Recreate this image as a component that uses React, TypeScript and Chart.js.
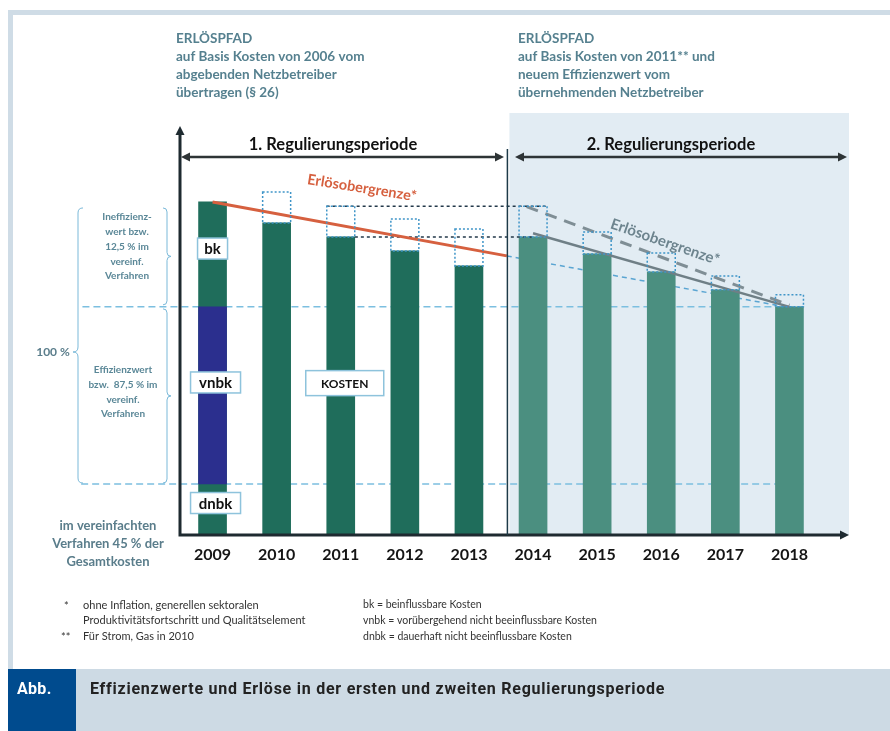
import React, { useEffect, useRef } from "react";
import { Chart, registerables } from "chart.js";

Chart.register(...registerables);

// ---------- data ----------
const years = ["2009", "2010", "2011", "2012", "2013", "2014", "2015", "2016", "2017", "2018"];
const costs = [100, 93.7, 89.5, 85.3, 80.8, 89.5, 84.4, 79.0, 73.6, 68.5];
const revenueCaps = [null, 103.0, 98.7, 94.9, 91.9, 98.7, 91.0, 84.7, 77.8, 72.1];
const vnbk2009 = [15.3, 68.5];
const efficiencyLevel = 68.5;
const dnbkLevel = 15.3;
const periodBoundary = 4.6;
const cap1Line = [{ x: 0, y: 100 }, { x: 4.59, y: 83.8 }];
const cap1Trend = [{ x: 4.59, y: 83.8 }, { x: 9, y: 68.3 }];
const cap2Line = [{ x: 5, y: 90.6 }, { x: 9, y: 68.5 }];
const cap2Upper = [{ x: 4.9, y: 98.6 }, { x: 9, y: 69 }];
const carryUpper = [{ x: 1.78, y: 98.7 }, { x: 5.22, y: 98.7 }];
const carryLower = [{ x: 2.22, y: 89.5 }, { x: 5, y: 89.5 }];
const effLine = [{ x: -2.03, y: efficiencyLevel }, { x: 9.23, y: efficiencyLevel }];
const dnbkLine = [{ x: -2.05, y: dnbkLevel }, { x: 9.25, y: dnbkLevel }];

const W = 890;
const H = 731;
const FONT = 'Lato, "Open Sans", sans-serif';
const TEAL_TXT = "#55808f";

function txt(ctx: any, s: string, x: number, y: number, size: number, color: string, align = "left", weight = "bold", family = FONT, spacing = "0px") {
  ctx.font = `${weight} ${size}px ${family}`;
  ctx.fillStyle = color;
  ctx.textAlign = align;
  ctx.textBaseline = "middle";
  try { ctx.letterSpacing = spacing; } catch (e) {}
  ctx.fillText(s, x, y);
  try { ctx.letterSpacing = "0px"; } catch (e) {}
}

function arrow(ctx: any, x: number, y: number, dir: string, size: number, color: string) {
  ctx.fillStyle = color;
  ctx.beginPath();
  if (dir === "up") {
    ctx.moveTo(x, y); ctx.lineTo(x - size / 2, y + size); ctx.lineTo(x + size / 2, y + size);
  } else if (dir === "right") {
    ctx.moveTo(x, y); ctx.lineTo(x - size, y - size / 2); ctx.lineTo(x - size, y + size / 2);
  } else {
    ctx.moveTo(x, y); ctx.lineTo(x + size, y - size / 2); ctx.lineTo(x + size, y + size / 2);
  }
  ctx.closePath();
  ctx.fill();
}

function brace(ctx: any, x: number, y1: number, y2: number, tip: number, w: number, ymid?: number) {
  const ym = ymid ?? (y1 + y2) / 2;
  const e = -tip * w;
  ctx.beginPath();
  ctx.moveTo(x + e, y1);
  ctx.quadraticCurveTo(x, y1, x, y1 + w);
  ctx.lineTo(x, ym - w);
  ctx.quadraticCurveTo(x, ym, x + tip * w, ym);
  ctx.quadraticCurveTo(x, ym, x, ym + w);
  ctx.lineTo(x, y2 - w);
  ctx.quadraticCurveTo(x, y2, x + e, y2);
  ctx.stroke();
}

function labelBox(ctx: any, s: string, cx: number, cy: number, w: number, h: number, size: number) {
  ctx.fillStyle = "#ffffff";
  ctx.fillRect(cx - w / 2, cy - h / 2, w, h);
  ctx.strokeStyle = "#8ec3dc";
  ctx.lineWidth = 1.5;
  ctx.setLineDash([]);
  ctx.strokeRect(cx - w / 2, cy - h / 2, w, h);
  txt(ctx, s, cx, cy + 1, size, "#111", "center");
}

const decor = {
  id: "decor",
  beforeDraw(chart: any) {
    const { ctx } = chart;
    const y = chart.scales.y;
    const xl = chart.scales.xl;
    ctx.save();
    ctx.fillStyle = "#ffffff";
    ctx.fillRect(0, 0, W, H);
    ctx.fillStyle = "#cfdce6";
    ctx.fillRect(8, 10, W - 8, 5);
    ctx.fillRect(8, 10, 5, 659);
    ctx.fillStyle = "#cddae4";
    ctx.fillRect(8, 669, W - 8, H - 669);
    ctx.fillStyle = "#004b8e";
    ctx.fillRect(8, 669, 68, H - 669);
    txt(ctx, "Abb.", 17, 690, 16, "#ffffff", "left", "bold", "Roboto, sans-serif", "0.3px");
    txt(ctx, "Effizienzwerte und Erlöse in der ersten und zweiten Regulierungsperiode", 90, 690, 16, "#222", "left", "bold", "Roboto, sans-serif", "0.75px");
    const bx = xl.getPixelForValue(periodBoundary) + 2;
    const base = y.getPixelForValue(0);
    ctx.fillStyle = "#e2ecf3";
    ctx.fillRect(bx, 113, 849 - bx, base - 113);
    ctx.restore();
  },
  afterDatasetsDraw(chart: any) {
    const { ctx } = chart;
    const y = chart.scales.y;
    const x = chart.scales.x;
    const xl = chart.scales.xl;
    const base = y.getPixelForValue(0);
    ctx.save();

    // dotted revenue boxes
    const meta = chart.getDatasetMeta(2);
    ctx.setLineDash([2, 2]);
    ctx.strokeStyle = "#3f95c8";
    ctx.lineWidth = 1.5;
    meta.data.forEach((el: any, i: number) => {
      if (revenueCaps[i] == null) return;
      const p = el.getProps(["x", "y", "base", "width"], true);
      const top = Math.min(p.y, p.base);
      const bot = Math.max(p.y, p.base);
      ctx.strokeRect(p.x - p.width / 2, top, p.width, bot - top);
    });
    ctx.setLineDash([]);

    // axes
    ctx.strokeStyle = "#1e2a30";
    ctx.lineWidth = 3;
    ctx.beginPath();
    ctx.moveTo(180, base + 1.5);
    ctx.lineTo(180, 134);
    ctx.moveTo(180, base);
    ctx.lineTo(842, base);
    ctx.stroke();
    arrow(ctx, 180, 126, "up", 9, "#1e2a30");
    arrow(ctx, 849, base, "right", 9, "#1e2a30");

    // divider
    const dx = xl.getPixelForValue(periodBoundary);
    ctx.strokeStyle = "#1d3a48";
    ctx.lineWidth = 1.5;
    ctx.beginPath();
    ctx.moveTo(dx, 149);
    ctx.lineTo(dx, base);
    ctx.stroke();

    // period arrows
    ctx.strokeStyle = "#2e3436";
    ctx.lineWidth = 2.5;
    ctx.beginPath();
    ctx.moveTo(188, 157); ctx.lineTo(497, 157);
    ctx.moveTo(522, 157); ctx.lineTo(840, 157);
    ctx.stroke();
    arrow(ctx, 181, 157, "left", 9, "#2e3436");
    arrow(ctx, 504, 157, "right", 9, "#2e3436");
    arrow(ctx, 515, 157, "left", 9, "#2e3436");
    arrow(ctx, 847, 157, "right", 9, "#2e3436");
    txt(ctx, "1. Regulierungsperiode", 333, 145, 16.5, "#111", "center");
    txt(ctx, "2. Regulierungsperiode", 671, 145, 16.5, "#111", "center");

    // top texts
    const left = ["ERLÖSPFAD", "auf Basis Kosten von 2006 vom", "abgebenden Netzbetreiber", "übertragen (§ 26)"];
    const right = ["ERLÖSPFAD", "auf Basis Kosten von 2011** und", "neuem Effizienzwert vom", "übernehmenden Netzbetreiber"];
    left.forEach((s, i) => txt(ctx, s, 176, 39 + i * 18, 13.5, TEAL_TXT));
    right.forEach((s, i) => txt(ctx, s, 518, 39 + i * 18, 13.5, TEAL_TXT));

    // labels on bars
    const x0 = x.getPixelForValue(0);
    labelBox(ctx, "bk", x0, y.getPixelForValue(86), 30, 21, 15);
    labelBox(ctx, "vnbk", x0 + 3, y.getPixelForValue(45.8), 50, 21, 15);
    labelBox(ctx, "dnbk", x0 + 3, y.getPixelForValue(9.6), 50, 21, 15);
    labelBox(ctx, "KOSTEN", x.getPixelForValue(2) + 4, y.getPixelForValue(45.6), 78, 25, 12);

    // rotated cap labels
    ctx.save();
    ctx.translate(362, 188);
    ctx.rotate((9 * Math.PI) / 180);
    txt(ctx, "Erlösobergrenze*", 0, 0, 14.5, "#d6603f", "center");
    ctx.restore();
    ctx.save();
    ctx.translate(665, 242);
    ctx.rotate((19 * Math.PI) / 180);
    txt(ctx, "Erlösobergrenze*", 0, 0, 15, "#6d848e", "center");
    ctx.restore();

    // braces
    ctx.strokeStyle = "#7ab9d9";
    ctx.lineWidth = 1;
    const yTop = y.getPixelForValue(costs[0]) + 6;
    const yEff = y.getPixelForValue(efficiencyLevel);
    const yD = y.getPixelForValue(dnbkLevel);
    brace(ctx, 78, yTop, yD - 1, -1, 5, 352);
    brace(ctx, 167, yTop, yEff - 2, 1, 4);
    brace(ctx, 167, yEff + 2, yD - 1, 1, 4);

    txt(ctx, "100 %", 53, 352, 12, "#5a7d8b", "center");
    ["Ineffizienz-", "wert bzw.", "12,5 % im", "vereinf.", "Verfahren"].forEach((s, i) =>
      txt(ctx, s, 127, 217 + i * 14.8, 10, "#5a8797", "center"));
    ["Effizienzwert", "bzw.  87,5 % im", "vereinf.", "Verfahren"].forEach((s, i) =>
      txt(ctx, s, 123, 370 + i * 14.7, 10, "#5a8797", "center"));
    ["im vereinfachten", "Verfahren 45 % der", "Gesamtkosten"].forEach((s, i) =>
      txt(ctx, s, 108, 526 + i * 18, 13, "#5a7d8b", "center"));

    // year labels
    years.forEach((s, i) => txt(ctx, s, x.getPixelForValue(i), base + 20, 16, "#151515", "center"));

    // footnotes
    txt(ctx, "*", 64, 606, 11, "#333", "left", "normal");
    txt(ctx, "ohne Inflation, generellen sektoralen", 83, 605, 11, "#333", "left", "normal");
    txt(ctx, "Produktivitätsfortschritt und Qualitätselement", 83, 620, 11, "#333", "left", "normal");
    txt(ctx, "**", 61, 637, 11, "#333", "left", "normal");
    txt(ctx, "Für Strom, Gas in 2010", 83, 636, 11, "#333", "left", "normal");
    txt(ctx, "bk = beinflussbare Kosten", 363, 605, 10.5, "#333", "left", "normal");
    txt(ctx, "vnbk = vorübergehend nicht beeinflussbare Kosten", 363, 621, 10.5, "#333", "left", "normal");
    txt(ctx, "dnbk = dauerhaft nicht beeinflussbare Kosten", 363, 637, 10.5, "#333", "left", "normal");

    ctx.restore();
  },
};

export default function App() {
  const ref = useRef<HTMLCanvasElement>(null);
  useEffect(() => {
    if (!ref.current) return;
    const lineBase = { type: "line", xAxisID: "xl", pointRadius: 0, fill: false, clip: false, tension: 0 };
    const chart = new Chart(ref.current, {
      type: "bar",
      data: {
        labels: years,
        datasets: [
          {
            label: "vnbk",
            data: years.map((_, i) => (i === 0 ? vnbk2009 : null)),
            backgroundColor: "#2b2f8e",
            grouped: false,
            barThickness: 28,
            order: 2,
          } as any,
          {
            label: "Kosten",
            data: costs,
            backgroundColor: costs.map((_, i) => (i < 5 ? "#1f6d5b" : "#4b8f80")),
            grouped: false,
            barThickness: 28,
            order: 3,
          } as any,
          {
            label: "Erlös",
            data: revenueCaps.map((c, i) => (c == null ? null : [costs[i], c])),
            backgroundColor: "rgba(0,0,0,0)",
            borderWidth: 0,
            grouped: false,
            barThickness: 28,
            order: 4,
          } as any,
          { ...lineBase, label: "eff", data: effLine, borderColor: "#7cbfe0", borderWidth: 1.5, borderDash: [7, 4], order: 10 } as any,
          { ...lineBase, label: "dnbk", data: dnbkLine, borderColor: "#7cbfe0", borderWidth: 1.5, borderDash: [7, 4], order: 10 } as any,
          { ...lineBase, label: "trend", data: cap1Trend, borderColor: "#5aa5d2", borderWidth: 1.5, borderDash: [5, 4], order: 10 } as any,
          { ...lineBase, label: "cap1", data: cap1Line, borderColor: "#d6603f", borderWidth: 3, order: 0 } as any,
          { ...lineBase, label: "cap2", data: cap2Line, borderColor: "#6f7f86", borderWidth: 2.5, order: 0 } as any,
          { ...lineBase, label: "cap2u", data: cap2Upper, borderColor: "#7f8e95", borderWidth: 3, borderDash: [12, 8], order: 0 } as any,
          { ...lineBase, label: "carryU", data: carryUpper, borderColor: "#23394a", borderWidth: 1.5, borderDash: [3, 3], order: 0 } as any,
          { ...lineBase, label: "carryL", data: carryLower, borderColor: "#23394a", borderWidth: 1.5, borderDash: [3, 3], order: 0 } as any,
        ],
      },
      options: {
        animation: false,
        responsive: false,
        devicePixelRatio: 1,
        layout: { padding: { left: 180.5, right: 68.5, top: 128, bottom: 196 } },
        plugins: { legend: { display: false }, tooltip: { enabled: false } },
        scales: {
          x: { type: "category", display: false, offset: true, grid: { display: false } },
          xl: { type: "linear", display: false, offset: false, min: -0.5, max: 9.5, grid: { offset: false } },
          y: { type: "linear", display: false, min: 0, max: 122.2 },
        },
      } as any,
      plugins: [decor],
    });
    return () => chart.destroy();
  }, []);
  return (
    <div style={{ position: "fixed", left: 0, top: 0, width: W, height: H, background: "#fff" }}>
      <canvas ref={ref} width={W} height={H} style={{ width: W, height: H, display: "block" }} />
    </div>
  );
}
